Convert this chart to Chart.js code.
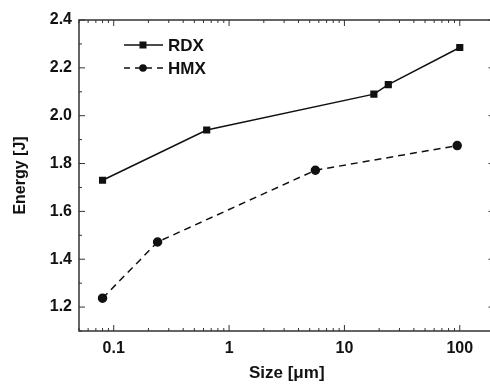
<!DOCTYPE html>
<html><head><meta charset="utf-8">
<script src="https://cdn.jsdelivr.net/npm/chart.js@4.4.1/dist/chart.umd.min.js"></script>
<style>
html,body{margin:0;padding:0;background:#fff;overflow:hidden;width:490px;height:384px;}
#wrap{width:500px;height:384px;position:relative;}
</style></head><body>
<div id="wrap"><canvas id="c"></canvas></div>
<script>
const rdxSize = [0.08, 0.64, 18, 24, 100];
const rdxEnergy = [1.73, 1.94, 2.09, 2.13, 2.285];
const hmxSize = [0.08, 0.24, 5.6, 95];
const hmxEnergy = [1.237, 1.472, 1.772, 1.875];
const xTicks = [0.1, 1, 10, 100];
const yTicks = [1.2, 1.4, 1.6, 1.8, 2.0, 2.2, 2.4];
const seriesNames = ['RDX', 'HMX'];

const FONT = 'Liberation Sans, Arial, sans-serif';
const INK = '#111';

const frame = {
  id: 'frame',
  afterDraw(chart) {
    const ctx = chart.ctx, a = chart.chartArea;
    const xs = chart.scales.x, ys = chart.scales.y;
    ctx.save();
    ctx.strokeStyle = '#333';
    ctx.lineWidth = 1.5;
    ctx.strokeRect(a.left, a.top, a.right - a.left, a.bottom - a.top);
    ctx.lineWidth = 1;
    for (let d = -2; d <= 2; d++) {
      for (let m = 1; m <= 9; m++) {
        const v = m * Math.pow(10, d);
        if (v < xs.min || v > xs.max) continue;
        const px = xs.getPixelForValue(v);
        const L = m === 1 ? 6 : 3;
        ctx.beginPath();
        ctx.moveTo(px, a.bottom); ctx.lineTo(px, a.bottom - L);
        ctx.moveTo(px, a.top); ctx.lineTo(px, a.top + L);
        ctx.stroke();
      }
    }
    for (let i = 11; i <= 24; i++) {
      const v = i / 10;
      const py = ys.getPixelForValue(v);
      const L = (i % 2 === 0) ? 6 : 3;
      ctx.beginPath();
      ctx.moveTo(a.left, py); ctx.lineTo(a.left + L, py);
      ctx.moveTo(a.right, py); ctx.lineTo(a.right - L, py);
      ctx.stroke();
    }
    const items = [
      {name: seriesNames[0], dash: [], style: 'rect', y: 45},
      {name: seriesNames[1], dash: [6, 5], style: 'circle', y: 68}
    ];
    items.forEach(it => {
      ctx.strokeStyle = INK; ctx.fillStyle = INK; ctx.lineWidth = 1.5;
      ctx.setLineDash(it.dash);
      ctx.beginPath(); ctx.moveTo(124, it.y); ctx.lineTo(163, it.y); ctx.stroke();
      ctx.setLineDash([]);
      if (it.style === 'rect') ctx.fillRect(139.5, it.y - 3.5, 7, 7);
      else { ctx.beginPath(); ctx.arc(143, it.y, 3.8, 0, Math.PI * 2); ctx.fill(); }
      ctx.font = 'bold 17px ' + FONT;
      ctx.textBaseline = 'middle';
      ctx.fillText(it.name, 168, it.y + 1);
    });
    ctx.restore();
  }
};

new Chart(document.getElementById('c'), {
  type: 'line',
  data: {
    datasets: [
      {label: seriesNames[0], data: rdxSize.map((x, i) => ({x, y: rdxEnergy[i]})),
       borderColor: INK, backgroundColor: INK, borderWidth: 1.5,
       pointStyle: 'rect', pointRadius: 4, pointHoverRadius: 4},
      {label: seriesNames[1], data: hmxSize.map((x, i) => ({x, y: hmxEnergy[i]})),
       borderColor: INK, backgroundColor: INK, borderWidth: 1.5, borderDash: [7, 5],
       pointStyle: 'circle', pointRadius: 4, pointHoverRadius: 4}
    ]
  },
  options: {
    responsive: true, maintainAspectRatio: false, animation: false,
    layout: {padding: {top: 20, right: 5, left: 11, bottom: 0}},
    plugins: {legend: {display: false}, tooltip: {enabled: false}},
    scales: {
      x: {
        type: 'logarithmic', min: 0.05, max: 200,
        afterBuildTicks(s) { s.ticks = xTicks.map(v => ({value: v, major: true})); },
        afterFit(s) { s.height = 53; },
        grid: {display: false, drawTicks: false},
        border: {display: false},
        ticks: {color: INK, padding: 8, maxRotation: 0, autoSkip: false,
          font: {family: FONT, size: 16, weight: 'bold'},
          callback: v => String(v)},
        title: {display: true, text: 'Size [μm]', color: INK, padding: {top: 5, bottom: 0},
          font: {family: FONT, size: 17, weight: 'bold'}}
      },
      y: {
        min: 1.1, max: 2.4,
        afterBuildTicks(s) { s.ticks = yTicks.map(v => ({value: v})); },
        afterFit(s) { s.width = 68; },
        grid: {display: false, drawTicks: false},
        border: {display: false},
        ticks: {color: INK, padding: 7, font: {family: FONT, size: 16, weight: 'bold'},
          callback: v => Number(v).toFixed(1)},
        title: {display: true, text: 'Energy [J]', color: INK, padding: {top: 0, bottom: 6},
          font: {family: FONT, size: 16, weight: 'bold'}}
      }
    }
  },
  plugins: [frame]
});
</script>
</body></html>
